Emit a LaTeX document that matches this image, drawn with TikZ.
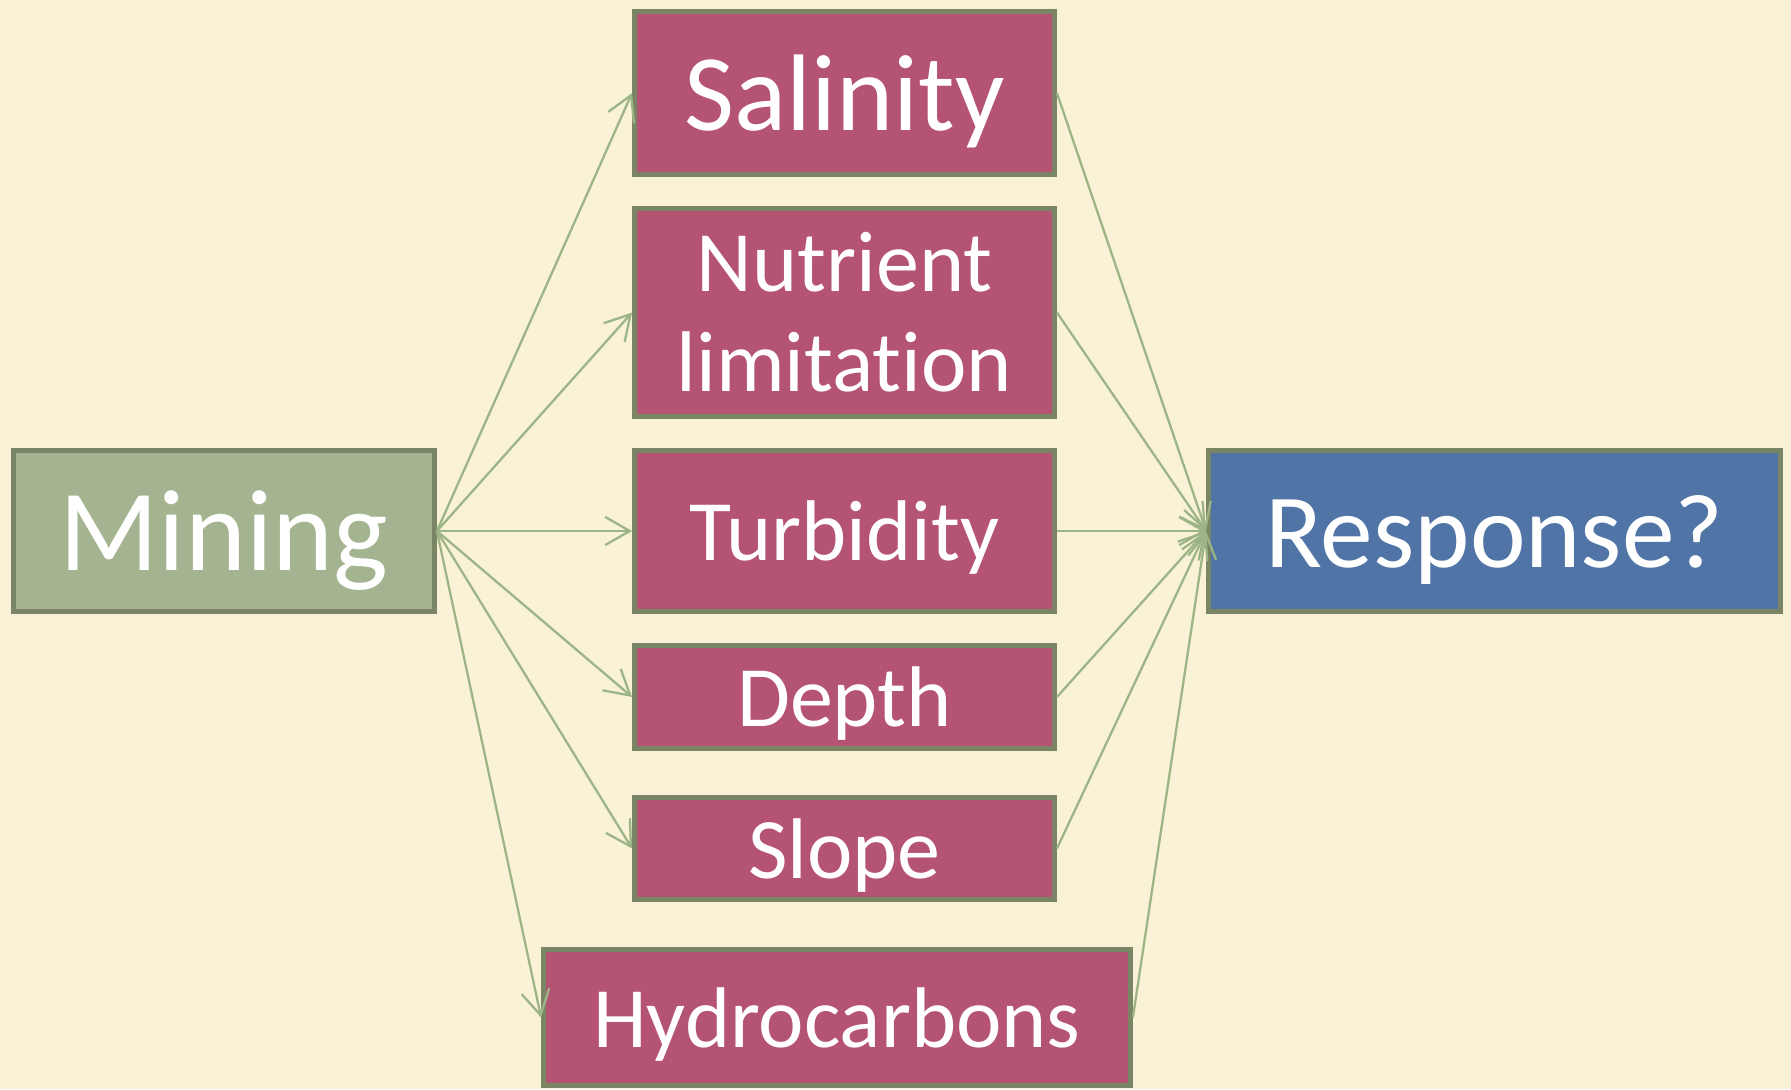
\documentclass[tikz,border=0pt]{standalone}
\usepackage{fontspec}
\setmainfont{Carlito}[Ligatures=NoCommon]
\usepackage{tikz}
\usetikzlibrary{shapes,arrows.meta}
\definecolor{bgcream}{RGB}{249,242,214}
\definecolor{minegreen}{RGB}{165,180,144}
\definecolor{edgeolive}{RGB}{122,133,102}
\definecolor{effectrose}{RGB}{181,83,114}
\definecolor{respblue}{RGB}{79,116,165}
\definecolor{linkgreen}{RGB}{157,180,134}

\begin{document}
\begin{tikzpicture}[x=0.02cm,y=-0.02cm,
	box/.style={draw=edgeolive,line width=2.8pt,text=white,inner sep=0pt,align=center,text depth=0pt},
	effect/.style={box,fill=effectrose,minimum width=8.4cm},
	link/.style={draw=linkgreen,line width=1.3pt,-{Straight Barb[length=14pt,width=16pt,line width=1.3pt]}}]
	% Background
	\fill [bgcream] (0,0) rectangle (1791,1089);
	\useasboundingbox (0,0) rectangle (1791,1089);

	% Mining
	\node [box,fill=minegreen,minimum width=8.42cm,minimum height=3.22cm,font=\fontsize{66}{70}\selectfont] (mining) at (224,531) {Mining};

	% Effects
	\node [effect,minimum height=3.26cm,font=\fontsize{62}{66}\selectfont] (salinity) at (844.5,93) {Salinity};
	\node [effect,text depth=,minimum height=4.16cm,font=\fontsize{49}{57}\selectfont] (nutrient) at (844.5,312.5) {Nutrient\\limitation};
	\node [effect,minimum height=3.22cm,font=\fontsize{49}{55}\selectfont] (turbidity) at (844.5,531) {Turbidity};
	\node [effect,minimum height=2.06cm,font=\fontsize{49}{55}\selectfont] (depth) at (844.5,697) {Depth};
	\node [effect,minimum height=2.04cm,font=\fontsize{49}{55}\selectfont] (slope) at (844.5,848.5) {Slope};
	\node [effect,minimum width=11.74cm,minimum height=2.72cm,font=\fontsize{49}{55}\selectfont] (hydro) at (837,1017.5) {Hydrocarbons};

	% Response
	\node [box,fill=respblue,minimum width=11.44cm,minimum height=3.22cm,font=\fontsize{60}{66}\selectfont] (response) at (1494.5,531) {Response?};

	% Links
	\foreach \eff in {salinity,nutrient,turbidity,depth,slope,hydro}{
		\draw [link] (mining.east) -- (\eff.west);
		\draw [link] (\eff.east) -- (response.west);
	}
\end{tikzpicture}
\end{document}
